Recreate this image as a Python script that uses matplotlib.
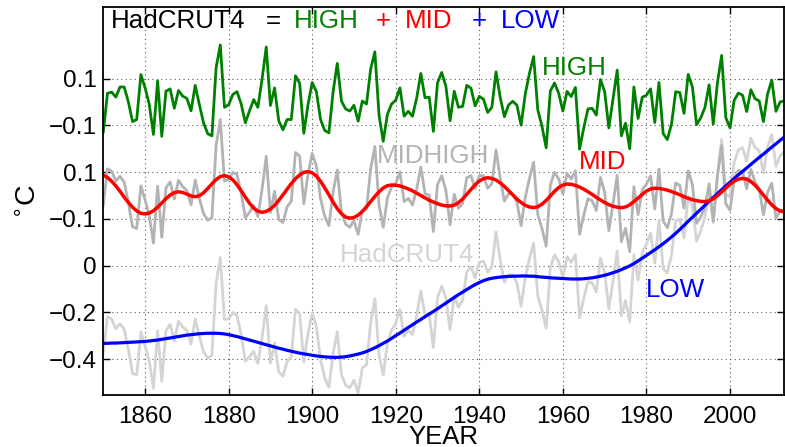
import matplotlib
matplotlib.use('Agg')
import matplotlib.pyplot as plt
import numpy as np

# annual global anomaly and its split into LOW / MID / HIGH components
years = np.arange(1850, 2014)

hadcrut4 = [
    -0.373, -0.218, -0.228, -0.269, -0.248, -0.272, -0.358, -0.461, -0.467, -0.284,
    -0.343, -0.407, -0.524, -0.278, -0.494, -0.279, -0.251, -0.321, -0.238, -0.262,
    -0.276, -0.335, -0.227, -0.304, -0.368, -0.395, -0.384, -0.075, 0.035, -0.230,
    -0.227, -0.200, -0.213, -0.296, -0.409, -0.389, -0.367, -0.418, -0.307, -0.171,
    -0.416, -0.330, -0.455, -0.473, -0.410, -0.390, -0.186, -0.206, -0.412, -0.289,
    -0.203, -0.259, -0.402, -0.479, -0.520, -0.377, -0.283, -0.465, -0.511, -0.522,
    -0.490, -0.544, -0.437, -0.424, -0.244, -0.141, -0.383, -0.468, -0.333, -0.275,
    -0.247, -0.187, -0.302, -0.276, -0.294, -0.215, -0.108, -0.210, -0.206, -0.350,
    -0.137, -0.087, -0.137, -0.273, -0.131, -0.178, -0.147, -0.026, -0.006, -0.052,
    0.014, 0.020, -0.027, -0.004, 0.144, 0.025, -0.071, -0.038, -0.039, -0.074,
    -0.173, -0.052, 0.028, 0.097, -0.129, -0.190, -0.267, -0.007, 0.046, 0.017,
    -0.049, 0.038, 0.014, 0.048, -0.223, -0.140, -0.068, -0.074, -0.113, 0.032,
    -0.027, -0.186, -0.065, 0.062, -0.214, -0.149, -0.241, 0.047, -0.062, 0.057,
    0.092, 0.140, 0.011, 0.194, -0.014, -0.030, 0.045, 0.192, 0.198, 0.118,
    0.296, 0.254, 0.105, 0.148, 0.208, 0.325, 0.183, 0.390, 0.539, 0.306,
    0.294, 0.441, 0.496, 0.505, 0.447, 0.545, 0.506, 0.491, 0.395, 0.506,
    0.560, 0.425, 0.470, 0.486]

low = [
    -0.332, -0.332, -0.331, -0.331, -0.330, -0.329, -0.328, -0.327, -0.326, -0.325,
    -0.324, -0.322, -0.320, -0.318, -0.315, -0.312, -0.309, -0.306, -0.303, -0.300,
    -0.297, -0.295, -0.293, -0.291, -0.290, -0.289, -0.289, -0.289, -0.290, -0.292,
    -0.295, -0.299, -0.303, -0.308, -0.313, -0.318, -0.323, -0.328, -0.333, -0.338,
    -0.343, -0.348, -0.353, -0.357, -0.362, -0.366, -0.370, -0.374, -0.377, -0.380,
    -0.383, -0.386, -0.388, -0.390, -0.391, -0.392, -0.392, -0.391, -0.389, -0.386,
    -0.382, -0.378, -0.373, -0.367, -0.359, -0.351, -0.342, -0.332, -0.322, -0.311,
    -0.299, -0.288, -0.276, -0.264, -0.253, -0.241, -0.230, -0.218, -0.207, -0.196,
    -0.184, -0.172, -0.160, -0.148, -0.136, -0.124, -0.113, -0.102, -0.091, -0.081,
    -0.072, -0.064, -0.058, -0.054, -0.051, -0.049, -0.047, -0.046, -0.045, -0.045,
    -0.044, -0.044, -0.045, -0.045, -0.047, -0.049, -0.050, -0.052, -0.053, -0.054,
    -0.055, -0.056, -0.057, -0.057, -0.057, -0.056, -0.054, -0.052, -0.049, -0.045,
    -0.041, -0.036, -0.030, -0.024, -0.017, -0.009, -0.001, 0.009, 0.020, 0.032,
    0.044, 0.056, 0.068, 0.081, 0.094, 0.108, 0.123, 0.138, 0.155, 0.172,
    0.190, 0.207, 0.224, 0.241, 0.258, 0.275, 0.292, 0.308, 0.325, 0.341,
    0.357, 0.373, 0.388, 0.403, 0.418, 0.433, 0.448, 0.463, 0.477, 0.492,
    0.507, 0.521, 0.536, 0.550]

mid = [
    0.087, 0.077, 0.061, 0.041, 0.018, -0.007, -0.030, -0.050, -0.066, -0.076,
    -0.079, -0.075, -0.065, -0.050, -0.032, -0.013, 0.002, 0.012, 0.016, 0.013,
    0.006, -0.002, -0.005, -0.001, 0.012, 0.030, 0.050, 0.068, 0.081, 0.085,
    0.080, 0.067, 0.046, 0.020, -0.007, -0.033, -0.054, -0.067, -0.072, -0.068,
    -0.058, -0.042, -0.021, 0.003, 0.027, 0.051, 0.072, 0.088, 0.099, 0.102,
    0.097, 0.083, 0.061, 0.033, 0.003, -0.028, -0.056, -0.078, -0.092, -0.097,
    -0.094, -0.084, -0.068, -0.048, -0.026, -0.004, 0.016, 0.032, 0.042, 0.045,
    0.044, 0.041, 0.035, 0.028, 0.020, 0.010, 0.000, -0.010, -0.020, -0.028,
    -0.035, -0.041, -0.044, -0.045, -0.041, -0.031, -0.015, 0.005, 0.026, 0.046,
    0.062, 0.072, 0.076, 0.073, 0.066, 0.054, 0.039, 0.021, 0.003, -0.015,
    -0.030, -0.042, -0.049, -0.052, -0.048, -0.037, -0.021, -0.002, 0.018, 0.034,
    0.045, 0.049, 0.048, 0.043, 0.036, 0.027, 0.016, 0.005, -0.008, -0.019,
    -0.030, -0.039, -0.046, -0.050, -0.052, -0.049, -0.040, -0.026, -0.011, 0.005,
    0.019, 0.028, 0.031, 0.030, 0.027, 0.023, 0.017, 0.010, 0.003, -0.005,
    -0.012, -0.018, -0.022, -0.025, -0.026, -0.023, -0.014, -0.001, 0.015, 0.032,
    0.048, 0.061, 0.070, 0.073, 0.070, 0.060, 0.044, 0.024, 0.002, -0.020,
    -0.040, -0.056, -0.066, -0.069]

hadcrut4 = np.array(hadcrut4)
low = np.array(low)
mid = np.array(mid)
midhigh = hadcrut4 - low
high = midhigh - mid

mid_off = 0.3
high_off = 0.7
yticks = [-0.4, -0.2, 0, 0.2, 0.4, 0.6, 0.8]
yticklabels = ['\u22120.4', '\u22120.2', '0', '\u22120.1', '0.1', '\u22120.1', '0.1']
xticks = [1860, 1880, 1900, 1920, 1940, 1960, 1980, 2000]

green = '#008000'
red = '#ff0000'
blue = '#0000ff'
gray_dark = '#b3b3b3'
gray_light = '#d4d4d4'

plt.rcParams['font.family'] = ['Liberation Sans', 'DejaVu Sans']

fig = plt.figure(figsize=(7.85, 4.47), dpi=100)
ax = fig.add_axes([103.3/785, 52/447, 681/785, 388/447])

ax.plot(years, hadcrut4, color=gray_light, lw=2)
ax.plot(years, midhigh + mid_off, color=gray_dark, lw=2)
ax.plot(years, low, color=blue, lw=2.3)
ax.plot(years, mid + mid_off, color=red, lw=2.5)
ax.plot(years, high + high_off, color=green, lw=2)

ax.set_xlim(1850, 2013)
ax.set_ylim(-0.553, 1.106)
ax.set_xticks(xticks)
ax.set_yticks(yticks)
ax.set_yticklabels(yticklabels)
ax.tick_params(direction='in', top=True, right=True, length=5, width=1,
               labelsize=17.5)
ax.tick_params(axis='y', pad=4.8)
ax.tick_params(axis='x', pad=8)
ax.grid(True, linestyle=(0, (1, 3)), color='0.35', linewidth=0.8)
for s in ax.spines.values():
    s.set_linewidth(1.3)

ax.set_xlabel('YEAR', fontsize=18.5)
ax.xaxis.set_label_coords(0.5, -0.078)
ax.set_ylabel('$^{\\circ}$C', fontsize=20.5)
ax.yaxis.set_label_coords(-0.09, 0.5)

fs = 18.7
# title line built from coloured pieces
ax.text(1851.8, 1.0145, 'HadCRUT4', color='k', fontsize=fs, va='baseline')
ax.text(1888.8, 1.0145, '=', color='k', fontsize=fs, va='baseline')
ax.text(1895.5, 1.0145, 'HIGH', color=green, fontsize=fs, va='baseline')
ax.text(1915.3, 1.0145, '+', color=red, fontsize=fs, va='baseline')
ax.text(1922.3, 1.0145, 'MID', color=red, fontsize=fs, va='baseline')
ax.text(1938.1, 1.0145, '+', color=blue, fontsize=fs, va='baseline')
ax.text(1945.1, 1.0145, 'LOW', color=blue, fontsize=fs, va='baseline')

# series labels
ax.text(1955.0, 0.815, 'HIGH', color=green, fontsize=fs, va='baseline')
ax.text(1915.5, 0.4376, 'MIDHIGH', color=gray_dark, fontsize=fs, va='baseline')
ax.text(1963.9, 0.412, 'MID', color=red, fontsize=fs, va='baseline')
ax.text(1906.7, 0.017, 'HadCRUT4', color=gray_light, fontsize=fs, va='baseline')
ax.text(1979.9, -0.135, 'LOW', color=blue, fontsize=fs, va='baseline')

fig.savefig('out.png', dpi=100)
